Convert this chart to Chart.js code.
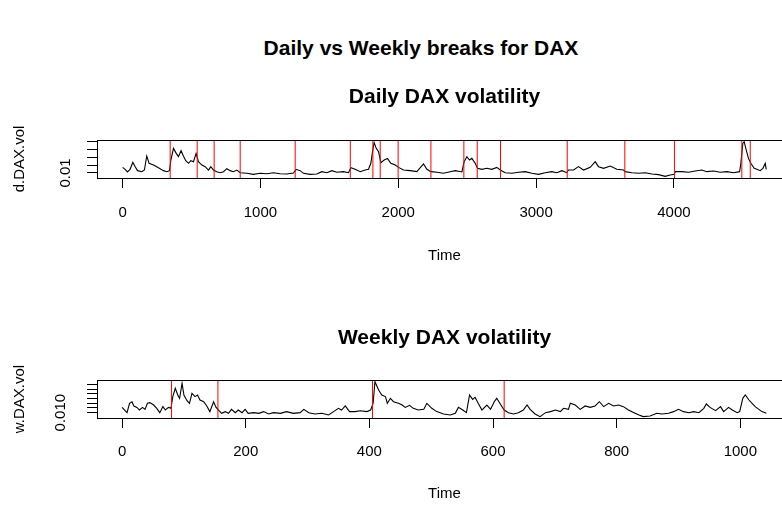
<!DOCTYPE html>
<html>
<head>
<meta charset="utf-8">
<script src="https://cdn.jsdelivr.net/npm/chart.js@4.4.1/dist/chart.umd.min.js"></script>
<style>
html, body { margin: 0; padding: 0; background: #fff; overflow: hidden; width: 782px; height: 506px; }
#main { position: absolute; left: 0; top: 35px; width: 842px; text-align: center;
  font: bold 21px "Liberation Sans", Arial, Helvetica, sans-serif; line-height: 26px; color: #000; }
canvas { position: absolute; left: 0; }
</style>
</head>
<body>
<div id="main">Daily vs Weekly breaks for DAX</div>
<canvas id="c1" width="830" height="270" style="top:0px;width:830px;height:270px"></canvas>
<canvas id="c2" width="830" height="270" style="top:240px;width:830px;height:270px"></canvas>
<script>
// ---------- DATA ----------
const dailyTime = [
  0, 18, 35, 54, 74, 91, 108, 139, 158, 175,
  192, 224, 260, 296, 321, 340, 350, 369, 389, 405,
  424, 441, 458, 478, 495, 514, 533, 550, 575, 599,
  623, 640, 659, 683, 708, 732, 756, 780, 804, 829,
  853, 901, 949, 998, 1046, 1095, 1143, 1191, 1240, 1259,
  1288, 1312, 1361, 1409, 1445, 1482, 1518, 1554, 1603, 1639,
  1656, 1687, 1724, 1760, 1784, 1801, 1815, 1825, 1840, 1857,
  1874, 1898, 1922, 1946, 1978, 2002, 2038, 2087, 2135, 2183,
  2208, 2237, 2280, 2328, 2377, 2413, 2462, 2478, 2498, 2517,
  2534, 2558, 2575, 2607, 2643, 2679, 2715, 2740, 2776, 2824,
  2873, 2921, 2969, 3018, 3066, 3114, 3151, 3187, 3223, 3235,
  3272, 3308, 3344, 3393, 3429, 3453, 3490, 3538, 3586, 3635,
  3647, 3695, 3744, 3792, 3840, 3889, 3937, 3973, 4002, 4010,
  4058, 4106, 4155, 4203, 4239, 4288, 4336, 4385, 4433, 4477,
  4486, 4500, 4510, 4525, 4541, 4558, 4583, 4602, 4626, 4646,
  4663, 4670
];
const dailyVol = [
  0.0172, 0.0147, 0.0113, 0.0147, 0.0236, 0.0181, 0.0130, 0.0117, 0.0138, 0.0317,
  0.0224, 0.0202, 0.0168, 0.0130, 0.0117, 0.0130, 0.0266, 0.0415, 0.0351, 0.0309,
  0.0385, 0.0317, 0.0258, 0.0224, 0.0258, 0.0245, 0.0351, 0.0245, 0.0202, 0.0181,
  0.0138, 0.0181, 0.0138, 0.0117, 0.0104, 0.0117, 0.0155, 0.0130, 0.0117, 0.0138,
  0.0104, 0.0096, 0.0083, 0.0096, 0.0091, 0.0104, 0.0091, 0.0087, 0.0100, 0.0147,
  0.0130, 0.0096, 0.0083, 0.0087, 0.0117, 0.0104, 0.0130, 0.0109, 0.0117, 0.0104,
  0.0168, 0.0147, 0.0117, 0.0138, 0.0147, 0.0224, 0.0394, 0.0488, 0.0415, 0.0373,
  0.0232, 0.0266, 0.0287, 0.0224, 0.0202, 0.0172, 0.0138, 0.0130, 0.0117, 0.0215,
  0.0147, 0.0117, 0.0109, 0.0096, 0.0117, 0.0130, 0.0113, 0.0245, 0.0309, 0.0266,
  0.0287, 0.0224, 0.0160, 0.0147, 0.0160, 0.0147, 0.0172, 0.0138, 0.0104, 0.0096,
  0.0109, 0.0117, 0.0096, 0.0083, 0.0104, 0.0117, 0.0104, 0.0130, 0.0104, 0.0138,
  0.0138, 0.0181, 0.0138, 0.0172, 0.0245, 0.0181, 0.0160, 0.0189, 0.0147, 0.0138,
  0.0117, 0.0104, 0.0096, 0.0104, 0.0087, 0.0079, 0.0057, 0.0074, 0.0083, 0.0117,
  0.0117, 0.0109, 0.0126, 0.0138, 0.0117, 0.0126, 0.0109, 0.0117, 0.0104, 0.0117,
  0.0224, 0.0479, 0.0500, 0.0394, 0.0287, 0.0224, 0.0160, 0.0147, 0.0130, 0.0160,
  0.0224, 0.0147
];
const dailyBreaks = [345, 541, 664, 853, 1252, 1652, 1816, 1869, 1999, 2237, 2476, 2573, 2742, 3226, 3644, 4004, 4493, 4554];
const dailyXTicks = [0, 1000, 2000, 3000, 4000];
const dailyXTickLabels = ['0', '1000', '2000', '3000', '4000'];
const dailyYTicks = [0.01, 0.02, 0.03, 0.04, 0.05];
const dailyYTickLabels = ['0.01', '', '', '', ''];
const dailyXRange = [-186, 4857];
const dailyYRange = [0.0036, 0.0522];

const weeklyTime = [
  0, 3, 8, 12, 16, 19, 24, 28, 33, 37,
  41, 45, 51, 56, 61, 66, 70, 75, 79, 82,
  86, 90, 93, 97, 100, 105, 109, 113, 118, 122,
  126, 132, 137, 142, 148, 152, 156, 161, 167, 172,
  177, 183, 188, 194, 199, 204, 213, 221, 229, 237,
  245, 256, 266, 277, 288, 294, 302, 312, 323, 334,
  342, 350, 355, 361, 368, 377, 385, 396, 402, 406,
  409, 415, 420, 426, 429, 434, 439, 447, 453, 458,
  465, 471, 479, 488, 493, 501, 509, 520, 531, 539,
  544, 551, 557, 562, 567, 571, 576, 582, 590, 596,
  602, 606, 611, 618, 625, 633, 641, 649, 655, 660,
  668, 676, 685, 693, 701, 709, 714, 722, 725, 733,
  741, 749, 757, 765, 772, 779, 787, 795, 803, 811,
  819, 828, 836, 843, 854, 865, 873, 884, 892, 900,
  908, 917, 925, 933, 941, 945, 951, 960, 968, 973,
  981, 987, 995, 999, 1004, 1008, 1014, 1019, 1024, 1030,
  1035, 1042
];
const weeklyVol = [
  0.0156, 0.0135, 0.0100, 0.0199, 0.0216, 0.0171, 0.0156, 0.0128, 0.0156, 0.0135,
  0.0199, 0.0206, 0.0181, 0.0146, 0.0100, 0.0164, 0.0128, 0.0156, 0.0146, 0.0270,
  0.0358, 0.0287, 0.0252, 0.0411, 0.0287, 0.0227, 0.0199, 0.0305, 0.0270, 0.0287,
  0.0234, 0.0216, 0.0171, 0.0111, 0.0216, 0.0156, 0.0128, 0.0093, 0.0111, 0.0093,
  0.0135, 0.0100, 0.0128, 0.0100, 0.0135, 0.0093, 0.0100, 0.0093, 0.0111, 0.0086,
  0.0100, 0.0093, 0.0111, 0.0093, 0.0100, 0.0135, 0.0100, 0.0086, 0.0093, 0.0075,
  0.0111, 0.0146, 0.0128, 0.0171, 0.0111, 0.0111, 0.0121, 0.0111, 0.0128, 0.0199,
  0.0428, 0.0340, 0.0287, 0.0270, 0.0199, 0.0252, 0.0216, 0.0199, 0.0181, 0.0156,
  0.0178, 0.0146, 0.0128, 0.0135, 0.0199, 0.0146, 0.0111, 0.0086, 0.0075, 0.0093,
  0.0156, 0.0128, 0.0100, 0.0287, 0.0241, 0.0262, 0.0199, 0.0128, 0.0181, 0.0135,
  0.0216, 0.0252, 0.0199, 0.0128, 0.0100, 0.0086, 0.0100, 0.0128, 0.0181, 0.0135,
  0.0086, 0.0058, 0.0100, 0.0111, 0.0128, 0.0111, 0.0146, 0.0135, 0.0199, 0.0181,
  0.0135, 0.0171, 0.0156, 0.0171, 0.0216, 0.0164, 0.0199, 0.0171, 0.0181, 0.0164,
  0.0128, 0.0100, 0.0075, 0.0058, 0.0065, 0.0093, 0.0086, 0.0093, 0.0111, 0.0135,
  0.0111, 0.0100, 0.0111, 0.0100, 0.0146, 0.0192, 0.0156, 0.0121, 0.0164, 0.0111,
  0.0156, 0.0128, 0.0100, 0.0111, 0.0252, 0.0287, 0.0234, 0.0199, 0.0164, 0.0135,
  0.0111, 0.0093
];
const weeklyBreaks = [80, 155, 405, 618];
const weeklyXTicks = [0, 200, 400, 600, 800, 1000];
const weeklyXTickLabels = ['0', '200', '400', '600', '800', '1000'];
const weeklyYTicks = [0.010, 0.015, 0.020, 0.025, 0.030, 0.035, 0.040];
const weeklyYTickLabels = ['0.010', '', '', '', '', '', ''];
const weeklyXRange = [-40.6, 1083.6];
const weeklyYRange = [0.00435, 0.0446];

// ---------- RENDERING ----------
const FONT = '"Liberation Sans", Arial, Helvetica, sans-serif';

const boxPlugin = {
  id: 'rbox',
  afterDraw(chart) {
    const { ctx, chartArea: a } = chart;
    ctx.save();
    ctx.strokeStyle = '#000';
    ctx.lineWidth = 1;
    ctx.strokeRect(Math.round(a.left) + 0.5, Math.round(a.top) + 0.5,
      Math.round(a.right - a.left), Math.round(a.bottom - a.top));
    ctx.restore();
  }
};

function makePanel(id, p) {
  const datasets = [];
  p.breaks.forEach(b => {
    datasets.push({
      data: [{ x: b, y: p.yRange[0] }, { x: b, y: p.yRange[1] }],
      borderColor: '#ff0000', borderWidth: 1, pointRadius: 0, tension: 0
    });
  });
  datasets.push({
    data: p.time.map((t, i) => ({ x: t, y: p.vol[i] })),
    borderColor: '#000000', borderWidth: 1.1, pointRadius: 0, tension: 0
  });
  const tickFont = { family: FONT, size: 15 };
  return new Chart(document.getElementById(id), {
    type: 'line',
    data: { datasets },
    plugins: [boxPlugin],
    options: {
      responsive: false, animation: false, devicePixelRatio: 1,
      layout: { padding: { left: 11, right: 38, top: 0, bottom: p.bottomPad } },
      plugins: {
        legend: { display: false }, tooltip: { enabled: false },
        title: {
          display: true, text: p.title, fullSize: false, color: '#000',
          font: { family: FONT, size: 21, weight: 'bold', lineHeight: 1.2 },
          padding: { top: p.titleTop, bottom: p.titleBottom }
        }
      },
      scales: {
        x: {
          type: 'linear', min: p.xRange[0], max: p.xRange[1],
          afterBuildTicks: s => { s.ticks = p.xTicks.map(v => ({ value: v })); },
          ticks: {
            autoSkip: false, maxRotation: 0, color: '#000', font: tickFont, padding: p.xTickPad,
            callback: (v, i) => p.xTickLabels[i]
          },
          grid: { drawOnChartArea: false, drawTicks: true, tickLength: 10, color: '#000' },
          border: { display: true, color: '#000' },
          title: { display: true, text: 'Time', color: '#000', font: tickFont, padding: 0 },
          afterFit: s => { s.height = p.xHeight; }
        },
        y: {
          type: 'linear', min: p.yRange[0], max: p.yRange[1],
          afterBuildTicks: s => { s.ticks = p.yTicks.map(v => ({ value: v })); },
          ticks: {
            autoSkip: false, minRotation: 90, maxRotation: 90, crossAlign: 'center',
            color: '#000', font: tickFont, padding: 7,
            callback: (v, i) => p.yTickLabels[i]
          },
          grid: { drawOnChartArea: false, drawTicks: true, tickLength: 10, color: '#000' },
          border: { display: true, color: '#000' },
          title: { display: true, text: p.yTitle, color: '#000', font: tickFont, padding: 0 },
          afterFit: s => { s.width = 86; }
        }
      }
    }
  });
}

makePanel('c1', {
  title: 'Daily DAX volatility', yTitle: 'd.DAX.vol',
  time: dailyTime, vol: dailyVol, breaks: dailyBreaks,
  xTicks: dailyXTicks, xTickLabels: dailyXTickLabels,
  yTicks: dailyYTicks, yTickLabels: dailyYTickLabels,
  xRange: dailyXRange, yRange: dailyYRange,
  titleTop: 84.4, titleBottom: 30.4, xHeight: 87, bottomPad: 5, xTickPad: 16
});
makePanel('c2', {
  title: 'Weekly DAX volatility', yTitle: 'w.DAX.vol',
  time: weeklyTime, vol: weeklyVol, breaks: weeklyBreaks,
  xTicks: weeklyXTicks, xTickLabels: weeklyXTickLabels,
  yTicks: weeklyYTicks, yTickLabels: weeklyYTickLabels,
  xRange: weeklyXRange, yRange: weeklyYRange,
  titleTop: 85.4, titleBottom: 29.4, xHeight: 85, bottomPad: 7, xTickPad: 15
});
</script>
</body>
</html>
